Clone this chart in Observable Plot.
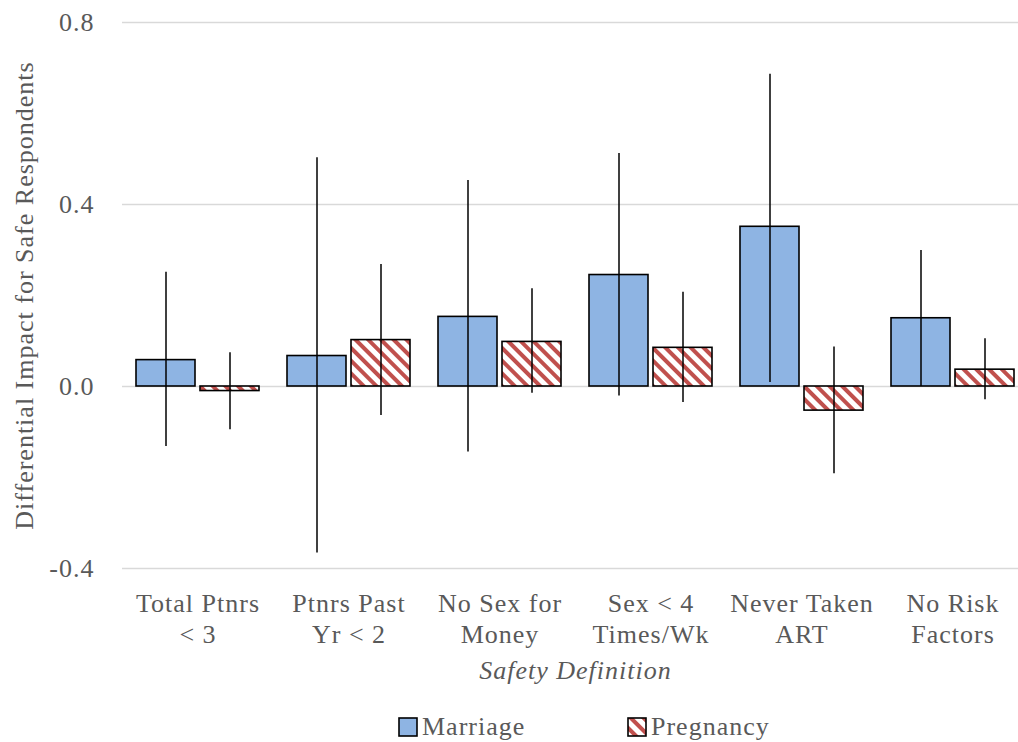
<!DOCTYPE html>
<html>
<head>
<meta charset="utf-8">
<script src="https://cdn.jsdelivr.net/npm/d3@7"></script>
<script src="https://cdn.jsdelivr.net/npm/@observablehq/plot@0.6"></script>
<style>
  body { margin: 0; background: white; overflow: hidden; font-family: "Liberation Serif", serif; }
  #chart svg { display: block; }
  #chart svg text { letter-spacing: 1px; }
  g[aria-label="fx-axis label"] text { font-style: italic; letter-spacing: 1.5px; }
  g[aria-label="y-axis label"] text { letter-spacing: 3px; }
  #legend { margin-left: 399px; margin-top: 10px; }
  #legend .lg-swatch { width: 229px; margin-right: 0; letter-spacing: 1px; }
  #legend .lg-swatch > svg { margin-right: 5px; }
  #legend rect { stroke: #000; stroke-width: 1.6; }
</style>
</head>
<body>
<div id="chart"></div>
<div id="legend"></div>
<script>
// categories and tick labels
const categories = ["Total Ptnrs", "Ptnrs Past Yr", "No Sex for Money", "Sex < 4", "Never Taken ART", "No Risk Factors"];
const tickLabels = ["Total Ptnrs\n< 3", "Ptnrs Past\nYr < 2", "No Sex for\nMoney", "Sex < 4\nTimes/Wk", "Never Taken\nART", "No Risk\nFactors"];
const series = ["Marriage", "Pregnancy"];

// estimates + confidence bounds
const marriage   = [0.058, 0.067, 0.153, 0.245, 0.351, 0.150];
const marriageLo = [-0.132, -0.366, -0.144, -0.021, 0.009, 0.000];
const marriageHi = [0.251, 0.503, 0.453, 0.512, 0.686, 0.299];
const pregnancy   = [-0.010, 0.102, 0.098, 0.085, -0.053, 0.037];
const pregnancyLo = [-0.095, -0.064, -0.015, -0.035, -0.192, -0.029];
const pregnancyHi = [0.074, 0.268, 0.215, 0.207, 0.087, 0.105];

const yTicks = [-0.4, 0, 0.4, 0.8];
const serifFont = "'Liberation Serif', serif";

const data = [];
categories.forEach((c, i) => {
  data.push({cat: c, series: "Marriage", value: marriage[i], lo: marriageLo[i], hi: marriageHi[i]});
  data.push({cat: c, series: "Pregnancy", value: pregnancy[i], lo: pregnancyLo[i], hi: pregnancyHi[i]});
});

const colorScale = {domain: series, range: ["#8eb4e3", "url(#hatch)"]};

const chart = Plot.plot({
  width: 1018,
  height: 700,
  marginTop: 22,
  marginBottom: 132,
  marginLeft: 120,
  marginRight: -11,
  style: {fontFamily: serifFont, fontSize: "26px", color: "#595959", background: "white"},
  fx: {domain: categories, padding: 0},
  x: {domain: series, paddingInner: 0.085, paddingOuter: 0.208, axis: null},
  y: {domain: [-0.4, 0.8]},
  color: colorScale,
  marks: [
    Plot.gridY(yTicks, {stroke: "#d9d9d9", strokeOpacity: 1, strokeWidth: 1.5}),
    Plot.barY(data, {fx: "cat", x: "series", y1: 0, y2: "value", fill: "series", stroke: "black", strokeWidth: 1.6}),
    Plot.ruleX(data, {fx: "cat", x: "series", y1: "lo", y2: "hi", stroke: "black", strokeWidth: 1.5}),
    Plot.axisY({
      ticks: yTicks, tickSize: 0, tickPadding: 28,
      tickFormat: (d) => d.toFixed(1),
      label: "Differential Impact for Safe Respondents",
      labelArrow: "none",
      labelAnchor: "center", labelOffset: 108
    }),
    Plot.axisFx({
      anchor: "bottom", tickSize: 0, tickPadding: 21, lineHeight: 1.2,
      tickFormat: (d) => tickLabels[categories.indexOf(d)],
      label: "Safety Definition", labelAnchor: "center", labelOffset: 110
    })
  ]
});

d3.select(chart).append("defs").html(`
  <pattern id="hatch" patternUnits="userSpaceOnUse" width="9" height="9" patternTransform="rotate(-45)">
    <rect width="9" height="9" fill="white"></rect>
    <rect width="4" height="9" fill="#c0504d"></rect>
  </pattern>`);

document.getElementById("chart").append(chart);

const legend = Plot.legend({
  color: colorScale,
  className: "lg",
  swatchSize: 18,
  style: {fontFamily: serifFont, fontSize: "26px", color: "#595959"}
});
document.getElementById("legend").append(legend);
</script>
</body>
</html>
